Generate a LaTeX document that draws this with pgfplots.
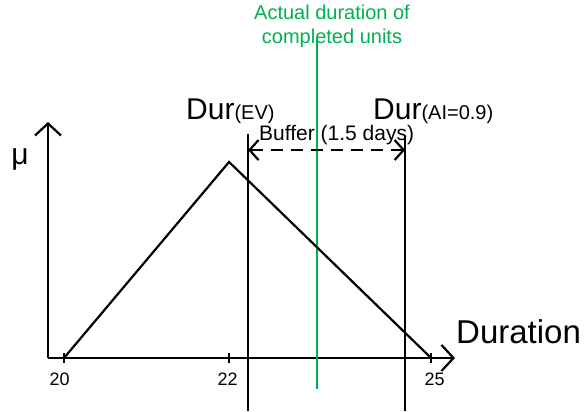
\documentclass[border=0pt]{standalone}
\usepackage{fontspec}
\setmainfont{Liberation Sans}
\usepackage{pgfplots}
\pgfplotsset{compat=1.18}
\usetikzlibrary{arrows.meta}
\definecolor{xlgreen}{RGB}{0,176,80}
\newcommand{\fs}[1]{\fontsize{#1}{#1}\selectfont}
\begin{document}
\begin{tikzpicture}[x=1pt,y=1pt]
\useasboundingbox (0,0) rectangle (587,412);
\begin{axis}[
  at={(48pt,54pt)}, anchor=south west,
  scale only axis, width=407pt, height=236pt,
  x coord trafo/.code={\pgfmathparse{ifthenelse(#1<=22,#1,22+(#1-22)*0.816)}},
  xmin=19.806, xmax=25.355, ymin=0, ymax=1.204,
  axis lines=left,
  axis line style={line width=2.2pt, -{Straight Barb[length=12pt,width=26pt]}},
  xtick={20,22,25}, xticklabels={\hspace*{-9pt}20,\hspace*{-3pt}22\rule[-5pt]{0pt}{0pt},\hspace*{7pt}25\rule[-2pt]{0pt}{0pt}},
  ytick=\empty,
  major tick length=10pt, tick align=center,
  tick style={line width=2pt, black},
  xticklabel style={font=\fs{18}, anchor=north, yshift=-6pt},
  /pgf/number format/assume math mode=true,
  clip=false,
]
\addplot[black, line width=2.2pt] coordinates {(22.282,-0.27) (22.282,1.143)};
\addplot[black, line width=2.2pt] coordinates {(24.614,-0.27) (24.614,1.133)};
\addplot[xlgreen, line width=2pt] coordinates {(23.307,-0.158) (23.307,1.628)};
\addplot[black, line width=2.2pt] coordinates {(20,0) (22,1) (25,0)};
\addplot[black, line width=2.2pt, dash pattern=on 12pt off 8pt,
  {Straight Barb[length=9pt,width=20pt]}-{Straight Barb[length=9pt,width=20pt]}]
  coordinates {(22.282,1.061) (24.614,1.061)};
\end{axis}
\node[anchor=base west, inner sep=0] at (186,292) {\fs{30}Dur\fs{20}(EV)};
\node[anchor=base west, inner sep=0] at (373,292) {\fs{30}Dur\fs{20}(AI=0.9)};
\node[anchor=base west, inner sep=0] at (259,271) {\fs{21}Buffer (1.5 days)};
\node[inner sep=0] at (20,253) {\fs{30}μ};
\node[anchor=base west, inner sep=0] at (456,68) {\fs{33}Duration};
\node[anchor=base, inner sep=0, text=xlgreen] at (332,392) {\fs{20}Actual duration of};
\node[anchor=base, inner sep=0, text=xlgreen] at (332,368) {\fs{20}completed units};
\end{tikzpicture}
\end{document}
